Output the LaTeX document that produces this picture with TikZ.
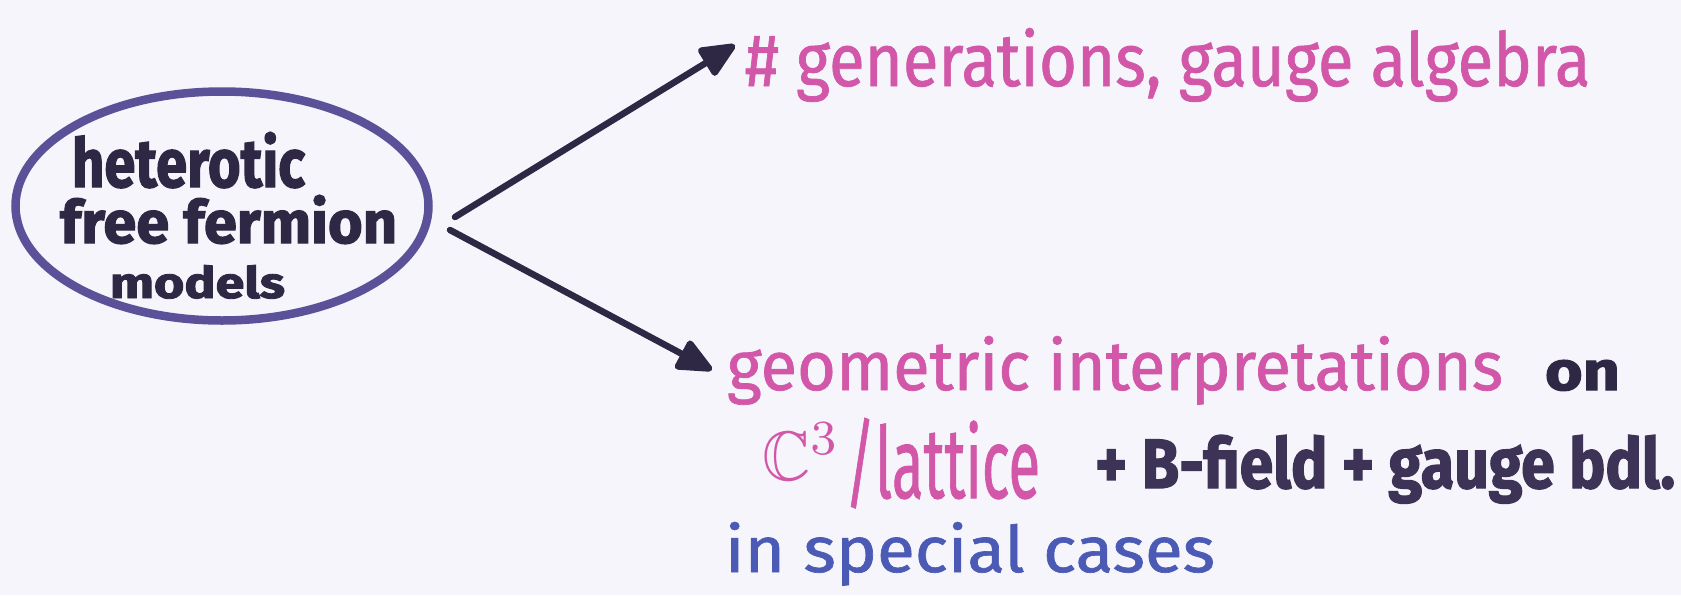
\documentclass[tikz,border=0pt]{standalone}
\usepackage{amssymb}
\usepackage{fontspec}
\setmainfont{Fira Sans}
\newfontfamily\thickfont{Fira Sans}[FakeBold=2]
\newfontfamily\midfont{Fira Sans}[FakeBold=1]
\usetikzlibrary{arrows.meta,shapes.geometric}
\definecolor{paper}{HTML}{F5F5FB}
\definecolor{ringc}{HTML}{5B5199}
\definecolor{inkd}{HTML}{2E2844}
\definecolor{inkp}{HTML}{D257A8}
\definecolor{inkb}{HTML}{4B5AB4}
\definecolor{inkg}{HTML}{3C3356}
\tikzset{
  ring/.style={draw=ringc, line width=8.5pt, ellipse, minimum width=413pt, minimum height=229pt},
  lbl/.style={anchor=base west, inner sep=0pt, outer sep=0pt},
  conn/.style={draw=inkd, line width=6.5pt, line cap=round, -{Triangle[length=40pt,width=34pt,round]}}
}
\begin{document}
\begin{tikzpicture}[x=1pt,y=-1pt]
\fill[paper] (0,0) rectangle (1681,595);
\useasboundingbox (0,0) rectangle (1681,595);
\node[ring] (src) at (222,206) {};
\node[lbl, text=inkd] (h1) at (72,187) {\resizebox{233pt}{55pt}{\thickfont\bfseries heterotic}};
\node[lbl, text=inkd] (h2) at (60,243) {\resizebox{337pt}{48pt}{\thickfont\bfseries free fermion}};
\node[lbl, text=inkd] (h3) at (110,298) {\resizebox{175pt}{33pt}{\thickfont\bfseries models}};
\node[lbl, text=inkp] (gen) at (745,86) {\resizebox{845pt}{58pt}{\midfont\# generations, gauge algebra}};
\node[lbl, text=inkp] (geo) at (727,390) {\resizebox{776pt}{54pt}{\midfont geometric interpretations}};
\node[lbl, text=inkd] (on) at (1545,390) {\resizebox{75pt}{30pt}{\thickfont\bfseries on}};
\node[lbl, text=inkp] (cc) at (762,480) {\resizebox{78pt}{57pt}{\midfont$\mathbb{C}^3$}};
\node[lbl, text=inkp] (lat) at (845,498) {\resizebox{195pt}{80pt}{\midfont/lattice}};
\node[lbl, text=inkg] (bf) at (1095,488) {\resizebox{580pt}{53pt}{\thickfont\bfseries + B-field + gauge bdl.}};
\node[lbl, text=inkb] (spc) at (725,572) {\resizebox{490pt}{50pt}{\midfont in special cases}};
\coordinate (s1) at (455,217);
\coordinate (t1) at (735,45);
\coordinate (s2) at (450,230);
\coordinate (t2) at (712,370);
\draw[conn] (s1) -- (t1);
\draw[conn] (s2) -- (t2);
\end{tikzpicture}
\end{document}
